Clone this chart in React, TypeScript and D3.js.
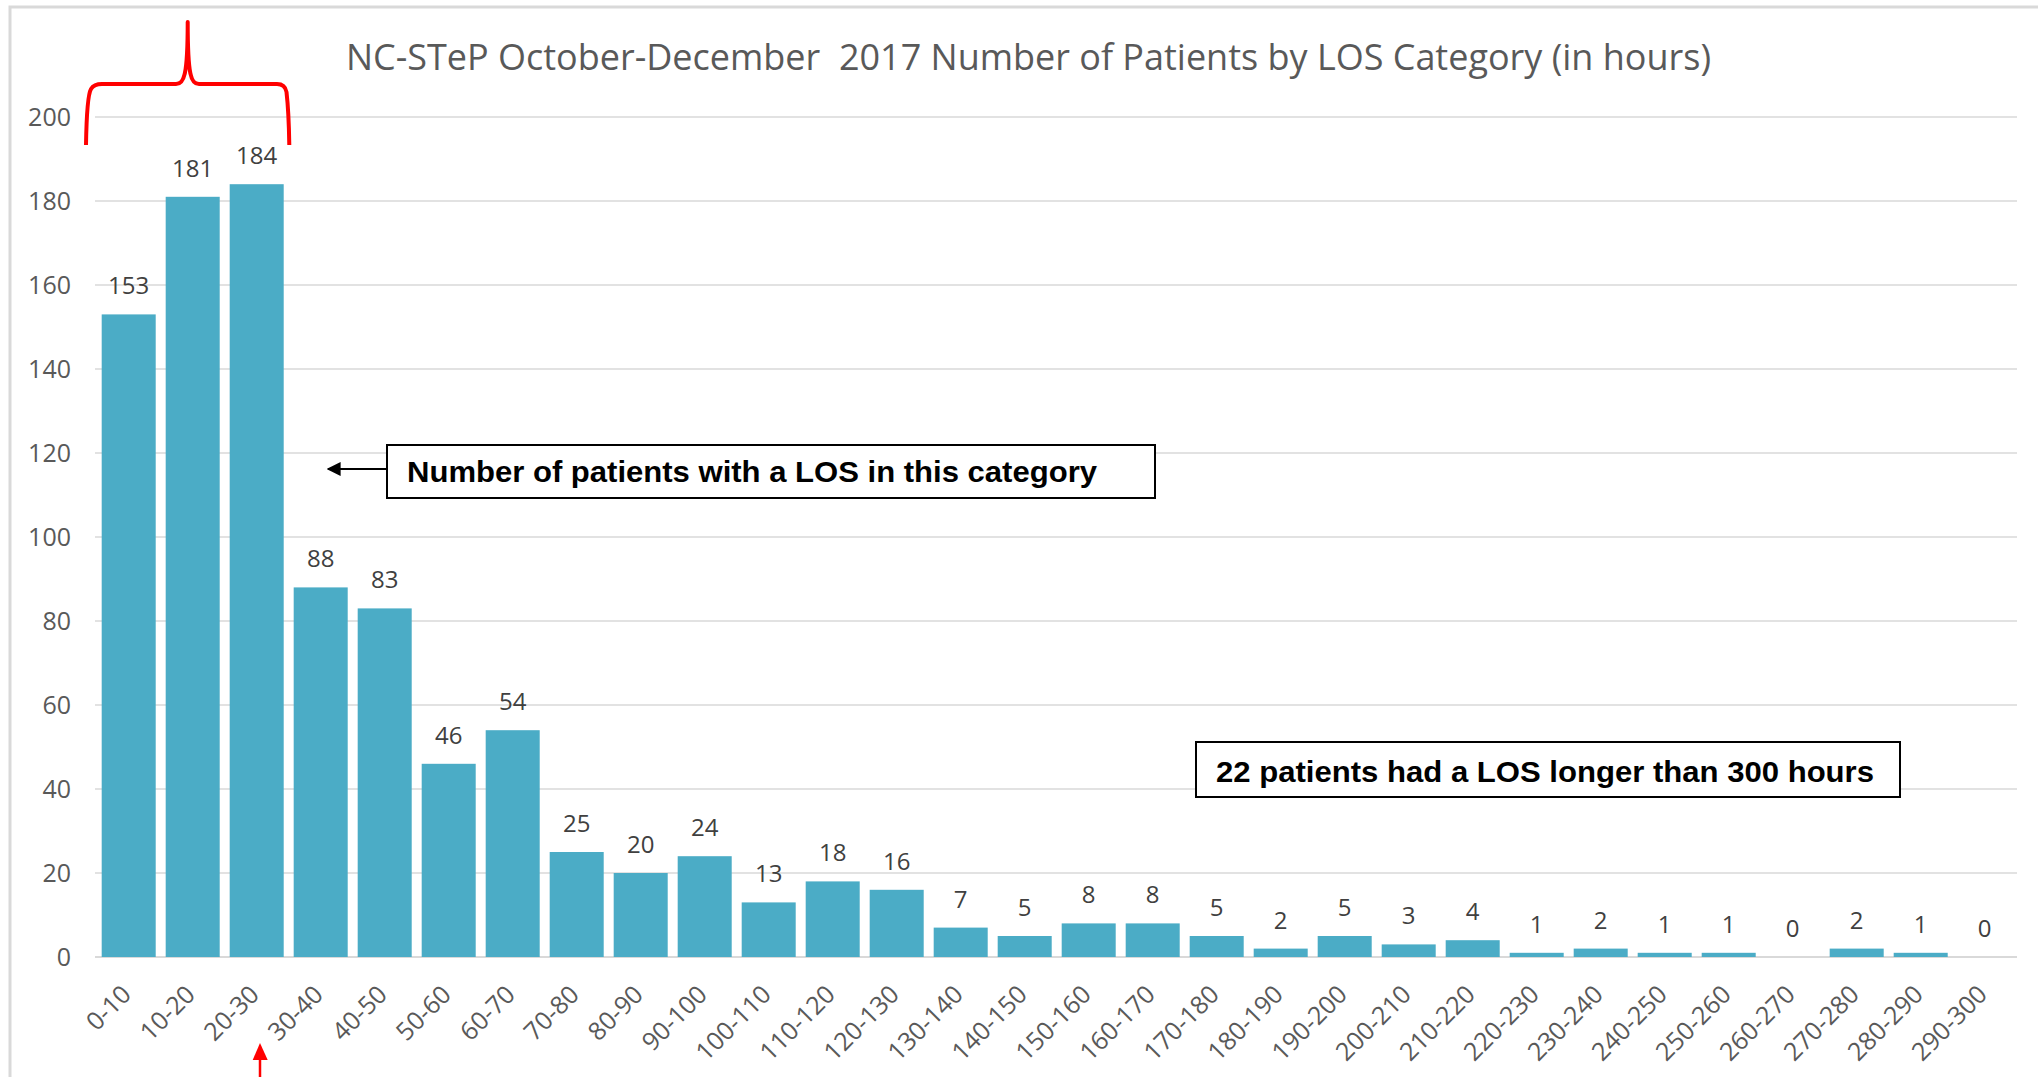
import React from "react";
import * as d3 from "d3";

const categories = [
  "0-10", "10-20", "20-30", "30-40", "40-50", "50-60", "60-70", "70-80", "80-90", "90-100",
  "100-110", "110-120", "120-130", "130-140", "140-150", "150-160", "160-170", "170-180", "180-190", "190-200",
  "200-210", "210-220", "220-230", "230-240", "240-250", "250-260", "260-270", "270-280", "280-290", "290-300",
];
const patients = [
  153, 181, 184, 88, 83, 46, 54, 25, 20, 24,
  13, 18, 16, 7, 5, 8, 8, 5, 2, 5,
  3, 4, 1, 2, 1, 1, 0, 2, 1, 0,
];
const yTicks = [0, 20, 40, 60, 80, 100, 120, 140, 160, 180, 200];
const title = "NC-STeP October-December  2017 Number of Patients by LOS Category (in hours)";
const note1 = "Number of patients with a LOS in this category";
const note2 = "22 patients had a LOS longer than 300 hours";

const W = 2038;
const H = 1077;

export default function App() {
  const x = d3
    .scaleBand<string>()
    .domain(categories)
    .range([96.7, 2016.7])
    .paddingInner(0.156)
    .paddingOuter(0.078);
  const y = d3.scaleLinear().domain([0, 200]).range([957, 117]);
  const bw = x.bandwidth();
  const font = "'Open Sans', 'Liberation Sans', sans-serif";

  const bracePath =
    "M 86,145 C 86.5,115 88,94 91,89 Q 94,84 102,84 L 176,84 C 184,84 187.7,76 187.7,22 " +
    "C 187.7,76 191,84 199,84 L 277,84 Q 285,84 286.5,92 C 288,105 289,125 289.3,145";

  return (
    <svg
      width={W}
      height={H}
      style={{ position: "absolute", left: 0, top: 0, background: "#fff" }}
      fontFamily={font}
    >
      <defs>
        <marker id="arrBlack" viewBox="0 0 10 10" refX="9" refY="5" markerWidth="7" markerHeight="7" orient="auto">
          <path d="M0,0 L10,5 L0,10 z" fill="#000" />
        </marker>
      </defs>
      <rect x={0} y={0} width={W} height={H} fill="#fff" />
      {/* chart border */}
      <rect x={10} y={7} width={W + 50} height={H + 50} fill="none" stroke="#d9d9d9" strokeWidth={3} />

      {/* gridlines */}
      {yTicks.map((t) => (
        <line
          key={"g" + t}
          x1={95}
          x2={2017}
          y1={y(t)}
          y2={y(t)}
          stroke="#d9d9d9"
          strokeWidth={t === 0 ? 2 : 1.3}
        />
      ))}
      {/* y labels */}
      {yTicks.map((t) => (
        <text key={"yl" + t} x={71} y={y(t)} dy="0.36em" textAnchor="end" fontSize={25} fill="#595959">
          {t}
        </text>
      ))}

      {/* bars */}
      {categories.map((c, i) => (
        <rect
          key={"b" + c}
          x={x(c)}
          y={y(patients[i])}
          width={bw}
          height={y(0) - y(patients[i])}
          fill="#4BACC6"
        />
      ))}
      {/* data labels */}
      {categories.map((c, i) => (
        <text
          key={"dl" + c}
          x={(x(c) as number) + bw / 2}
          y={y(patients[i]) - 20}
          textAnchor="middle"
          fontSize={24}
          fill="#404040"
        >
          {patients[i]}
        </text>
      ))}
      {/* x labels */}
      {categories.map((c) => {
        const cx = (x(c) as number) + bw / 2 + 4;
        const cy = 996;
        return (
          <text
            key={"xl" + c}
            x={cx}
            y={cy}
            transform={`rotate(-45 ${cx} ${cy})`}
            textAnchor="end"
            fontSize={25}
            fill="#595959"
          >
            {c}
          </text>
        );
      })}

      {/* title */}
      <text
        x={346}
        y={70}
        fontSize={37}
        fill="#595959"
        textLength={1365}
        lengthAdjust="spacingAndGlyphs"
        style={{ whiteSpace: "pre" }}
      >
        {title}
      </text>

      {/* red brace */}
      <path d={bracePath} fill="none" stroke="#ff0000" strokeWidth={4} strokeLinejoin="round" />

      {/* red arrow at bottom */}
      <line x1={260} x2={260} y1={1058} y2={1077} stroke="#ff0000" strokeWidth={2.5} />
      <path d="M 252.7,1060 L 260,1043 L 267.7,1060 Z" fill="#ff0000" />

      {/* annotation 1 */}
      <rect x={387} y={445} width={768} height={53} fill="#fff" stroke="#000" strokeWidth={2} />
      <text
        x={407}
        y={482}
        fontSize={30}
        fontWeight="bold"
        fontFamily="'Liberation Sans', sans-serif"
        fill="#000"
        textLength={690}
        lengthAdjust="spacingAndGlyphs"
      >
        {note1}
      </text>
      <line x1={387} x2={328} y1={469} y2={469} stroke="#000" strokeWidth={2} markerEnd="url(#arrBlack)" />

      {/* annotation 2 */}
      <rect x={1196} y={742} width={704} height={55} fill="#fff" stroke="#000" strokeWidth={2} />
      <text
        x={1216}
        y={782}
        fontSize={30}
        fontWeight="bold"
        fontFamily="'Liberation Sans', sans-serif"
        fill="#000"
        textLength={658}
        lengthAdjust="spacingAndGlyphs"
      >
        {note2}
      </text>
    </svg>
  );
}
